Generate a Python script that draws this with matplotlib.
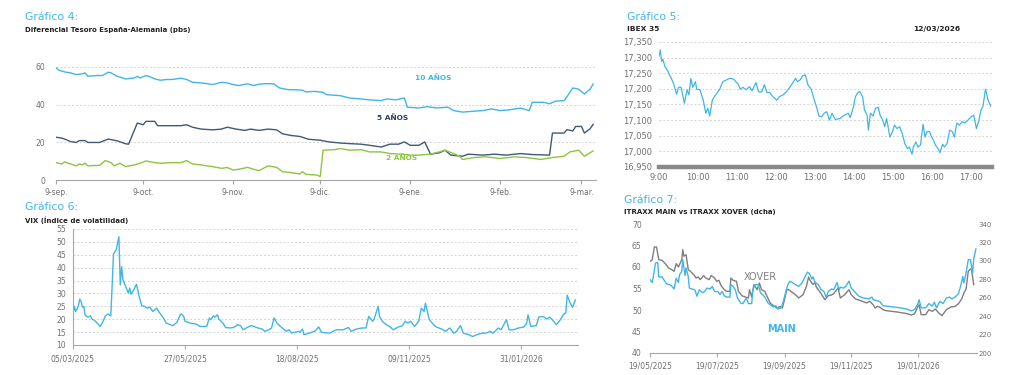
import matplotlib
matplotlib.use('Agg')
import matplotlib.pyplot as plt
import pandas as pd
from matplotlib.ticker import FuncFormatter

# Gráfico 4: diferencial España-Alemania (días desde 9-sep-2025, pbs)
dias_10a = [0, 1, 3, 5, 7, 9, 10, 11, 14, 16, 18, 19, 21, 23, 24, 27, 28, 29, 31, 32, 34, 36, 38, 40, 43, 45, 47,
            50, 52, 54, 57, 59, 61, 63, 66, 68, 70, 72, 75, 77, 80, 82, 85, 86, 89, 92, 93, 98, 101, 105, 108, 112,
            114, 117, 120, 121, 125, 128, 131, 135, 137, 140, 144, 147, 150, 153, 156, 160, 163, 164, 168, 170,
            172, 175, 176, 178, 180, 182, 184, 185]
spread_10a = [59.5, 58.2, 57.3, 56.8, 55.9, 56.3, 56.8, 55, 55.4, 55.4, 57.2, 56.8, 55, 54.1, 53.6, 54.1, 55, 54.1,
              55.4, 55, 53.6, 52.9, 53.3, 53.3, 54, 53.3, 51.8, 51.5, 51.1, 50.6, 51.8, 51.5, 50.6, 50.1, 51, 50.1,
              50.8, 51.1, 51, 48.8, 47.9, 47.9, 47.6, 46.7, 47, 46.5, 45.3, 44.7, 43.5, 43, 42.5, 42.1, 43, 42.5,
              43.5, 38.6, 38.2, 38.9, 38.2, 38.6, 36.8, 36, 36.5, 36.8, 37.7, 36.8, 37.2, 38.1, 36.8, 41.2, 41.2,
              40.4, 41.8, 42.1, 44.2, 48.8, 48.2, 45.6, 48.2, 50.9]
dias_5a = [0, 2, 3, 5, 7, 8, 10, 11, 15, 18, 21, 24, 25, 28, 30, 31, 34, 35, 38, 43, 45, 47, 50, 54, 57, 59, 62,
           65, 67, 70, 73, 76, 78, 81, 84, 87, 91, 94, 98, 101, 105, 108, 112, 115, 118, 120, 122, 125, 127, 129,
           132, 134, 136, 140, 142, 147, 151, 155, 160, 164, 170, 171, 175, 176, 178, 179, 181, 182, 184, 185]
spread_5a = [22.7, 22.2, 21.7, 20.4, 19.9, 20.9, 20.9, 19.9, 19.9, 21.7, 20.8, 19.2, 19.0, 30.2, 29.3, 31.1, 31.1,
             28.8, 28.8, 28.8, 29.3, 28, 27, 26.6, 27, 28, 27, 26.3, 27, 26.3, 27, 26.6, 24.5, 23.6, 23.1, 21.6,
             21.1, 20.2, 19.6, 19.3, 19, 18.4, 17.5, 19, 19, 20.2, 18.4, 18.4, 20.2, 13.7, 14.4, 15.8, 13.2, 12.6,
             13.7, 13.2, 13.7, 13.2, 14, 13.5, 13.2, 24.9, 24.9, 26.7, 26, 28.4, 28.4, 24.9, 27.2, 29.5]
dias_2a = [0, 2, 3, 5, 7, 8, 9, 10, 11, 15, 17, 19, 20, 22, 24, 27, 29, 31, 34, 36, 40, 43, 45, 47, 50, 52, 54,
           57, 59, 61, 63, 66, 68, 70, 73, 76, 78, 81, 84, 85, 86, 90, 91, 92, 96, 98, 101, 105, 108, 112, 115,
           119, 122, 125, 129, 132, 134, 137, 139, 140, 144, 148, 153, 158, 162, 167, 171, 175, 177, 180, 182, 185]
spread_2a = [9.2, 8.5, 9.6, 8.5, 7.5, 8.5, 8, 8.9, 7.5, 7.8, 10.3, 9.2, 7.5, 8.9, 7.1, 8, 8.9, 10.1, 9.2, 8.9, 9.2,
             9.2, 10.3, 8.5, 8, 7.5, 7.1, 6.2, 6.6, 5.3, 5.7, 6.7, 5.7, 5, 7.5, 6.7, 4.4, 3.9, 3.2, 4.4, 3, 2.6,
             1.8, 15.8, 16.1, 16.7, 15.8, 16.1, 14.9, 14.9, 14, 13.7, 13.2, 13.2, 13.7, 14.9, 15.8, 14, 12.6, 10.9,
             11.9, 12.3, 11.4, 12.3, 11.9, 10.9, 11.9, 12.6, 14.9, 15.8, 12.6, 15.4]
meses_4 = ['2025-09-09', '2025-10-09', '2025-11-09', '2025-12-09', '2026-01-09', '2026-02-09', '2026-03-09']
etiq_4 = ['9-sep.', '9-oct.', '9-nov.', '9-dic.', '9-ene.', '9-feb.', '9-mar.']

# Gráfico 5: IBEX 35 intradía (minutos desde las 9:00)
minutos = [0, 2, 4, 6, 9, 14, 16, 19, 23, 27, 30, 34, 39, 43, 46, 49, 52, 56, 58, 63, 68, 72, 75, 78, 82, 85, 89,
           93, 98, 104, 109, 115, 118, 121, 125, 129, 134, 139, 143, 149, 153, 158, 162, 166, 170, 175, 181, 185,
           191, 196, 201, 206, 210, 213, 217, 221, 225, 229, 234, 238, 242, 246, 250, 254, 258, 262, 266, 271,
           278, 285, 291, 294, 299, 302, 306, 309, 313, 316, 320, 322, 325, 329, 333, 337, 340, 344, 347, 350,
           355, 359, 362, 366, 370, 374, 378, 382, 385, 389, 391, 395, 398, 402, 406, 409, 412, 416, 419, 422,
           425, 429, 432, 436, 439, 443, 447, 451, 454, 458, 462, 466, 470, 475, 480, 484, 488, 492, 495, 498,
           502, 506, 510]
ibex = [17304, 17325, 17288, 17295, 17272, 17256, 17245, 17234, 17213, 17183, 17205, 17205, 17154, 17197, 17181,
        17233, 17205, 17223, 17199, 17197, 17164, 17122, 17138, 17113, 17164, 17175, 17186, 17197, 17223, 17229,
        17234, 17231, 17223, 17218, 17199, 17205, 17197, 17207, 17194, 17220, 17191, 17190, 17213, 17188, 17189,
        17175, 17164, 17175, 17181, 17191, 17205, 17220, 17234, 17223, 17229, 17242, 17245, 17213, 17199, 17170,
        17143, 17113, 17111, 17122, 17127, 17100, 17122, 17102, 17105, 17116, 17122, 17108, 17143, 17175, 17189,
        17191, 17175, 17132, 17116, 17068, 17122, 17113, 17138, 17141, 17116, 17100, 17079, 17105, 17046, 17063,
        17084, 17073, 17079, 17057, 17025, 17009, 17014, 16991, 17014, 17030, 17014, 17020, 17087, 17046, 17063,
        17063, 17046, 17036, 17020, 17009, 16996, 17023, 17014, 17025, 17068, 17063, 17046, 17091, 17084, 17095,
        17091, 17100, 17111, 17116, 17073, 17100, 17132, 17143, 17199, 17164, 17145]
horas = ['9:00', '10:00', '11:00', '12:00', '13:00', '14:00', '15:00', '16:00', '17:00']

# Gráfico 6: VIX (días desde 05/03/2025)
dias_vix = [0, 1, 2, 4, 5, 6, 7, 8, 9, 11, 13, 14, 16, 19, 20, 22, 24, 26, 28, 30, 32, 34, 35, 36, 37, 39, 41, 42,
            43, 45, 47, 49, 51, 53, 55, 57, 59, 62, 64, 67, 69, 72, 74, 77, 79, 80, 82, 83, 85, 88, 90, 92, 94,
            96, 99, 101, 102, 104, 105, 107, 108, 111, 113, 116, 119, 122, 124, 126, 129, 132, 135, 137, 140,
            142, 145, 147, 149, 151, 153, 156, 158, 160, 162, 164, 167, 168, 170, 171, 175, 179, 182, 184, 190,
            195, 200, 204, 206, 210, 214, 217, 219, 222, 223, 226, 227, 229, 232, 235, 237, 241, 244, 246, 248,
            250, 253, 256, 258, 260, 261, 263, 264, 267, 269, 273, 276, 279, 282, 284, 287, 289, 293, 296, 299,
            303, 306, 309, 311, 315, 317, 321, 323, 326, 330, 334, 336, 337, 339, 343, 345, 348, 351, 353, 356,
            358, 361, 363, 365, 366, 368, 370, 372]
vix = [21.7, 25, 23, 25.2, 27.8, 26.9, 24.7, 25, 21.6, 20.8, 21.3, 20.1, 19.5, 17.9, 17.2, 18.8, 21.3, 22, 21.3,
       45.3, 46.9, 52, 33.3, 40.4, 35.3, 32.7, 30.1, 32.1, 29.7, 31.4, 33.6, 28.8, 25.2, 25, 24.3, 24.7, 23, 24.3,
       22.6, 20.5, 18.5, 17.9, 17.5, 18.8, 21.3, 22.1, 21.1, 19.2, 18.8, 18.3, 18.3, 17.9, 17.2, 17.2, 17.2, 20.5,
       19.8, 21.3, 20.8, 21.7, 20.1, 18.5, 16.8, 16.6, 16.8, 17.9, 17.5, 15.9, 16.8, 17.5, 17, 16.6, 16.2, 15.3,
       15.9, 16.6, 20.5, 18.5, 17.5, 16.2, 15.3, 15.9, 14.6, 14.9, 15.3, 14.9, 16.2, 14, 14.6, 15.3, 17, 14.9,
       14.6, 15.9, 15.9, 16.8, 15.3, 16.2, 16.6, 16.6, 21.1, 19.2, 20.1, 25, 21.1, 19.2, 17.9, 17, 15.9, 17, 17.5,
       19.2, 18.5, 19.2, 17.2, 19.2, 24.3, 23, 26.2, 21.7, 19.8, 17.9, 17, 16.2, 15.3, 16.6, 14.6, 15.3, 17.5,
       14.6, 14, 13.3, 14, 14.6, 14.6, 15.3, 14.6, 16.6, 15.9, 19.8, 15.9, 15.9, 16.6, 17, 18.5, 21.7, 17.2,
       17.5, 20.8, 21.1, 20.1, 20.8, 19.2, 17.9, 19.8, 21.7, 22.6, 29.3, 26.5, 24.6, 27.5]

# Gráfico 7: iTraxx Main (izq) y Crossover (dcha), días desde 19/05/2025
dias_main = [0, 2, 3, 5, 7, 8, 11, 13, 15, 18, 20, 22, 24, 26, 27, 29, 30, 32, 33, 35, 36, 38, 41, 43, 45, 48, 50,
             52, 55, 57, 59, 62, 64, 66, 68, 70, 73, 74, 76, 78, 80, 83, 85, 88, 90, 93, 94, 96, 99, 101, 104, 105,
             108, 110, 113, 115, 117, 120, 121, 124, 126, 128, 130, 133, 136, 139, 141, 144, 146, 148, 149, 151,
             154, 156, 159, 161, 163, 166, 168, 171, 173, 174, 177, 179, 182, 184, 187, 191, 195, 200, 203, 204,
             207, 210, 213, 216, 223, 229, 235, 239, 242, 245, 246, 248, 252, 255, 258, 260, 262, 265, 268, 271,
             274, 276, 279, 282, 284, 286, 287, 289, 291, 293, 295, 296, 298]
main = [57.1, 56.4, 57.7, 60.9, 61.1, 57.7, 57.7, 56.9, 56.1, 55.9, 55.5, 54.9, 57.4, 56.4, 58.2, 59, 61.7, 58,
        59.8, 57.7, 55.1, 54.9, 54.7, 53.2, 54.7, 54, 54.3, 55.1, 54.9, 55.5, 54.3, 54.3, 53.6, 54.3, 53.3, 53, 53,
        55.9, 55.5, 54.7, 52.8, 51.6, 51.5, 52.8, 51.5, 51.5, 54.7, 55.9, 55.9, 54, 53.3, 53, 51.6, 51.2, 50.7, 51,
        50.2, 50.5, 51.2, 54, 55.9, 56.7, 56.4, 55.9, 55.5, 56.3, 57.4, 58.8, 58.4, 57.2, 57.7, 56.4, 55.9, 54.9,
        54.3, 53, 54.3, 54.9, 54.7, 56.4, 54.7, 55.3, 55.1, 55.5, 56.7, 55.1, 54.3, 53.2, 52.8, 52.6, 53, 52.4,
        52.2, 52, 51, 50.9, 50.7, 50.5, 50.2, 49.8, 50.1, 51.5, 52.4, 50.5, 50.5, 51.5, 50.9, 51.8, 50.5, 52, 51.5,
        52.8, 53, 52.6, 53, 53.8, 55.5, 57.8, 56.3, 58.6, 61.7, 61.7, 58.6, 61.9, 64.2]
dias_xover = [0, 2, 4, 6, 8, 11, 14, 17, 20, 22, 24, 26, 29, 30, 31, 33, 35, 37, 40, 42, 44, 46, 49, 51, 54, 56,
              59, 61, 63, 65, 68, 70, 73, 74, 76, 79, 81, 84, 87, 90, 91, 93, 95, 98, 100, 102, 105, 107, 110, 113,
              116, 119, 121, 123, 125, 127, 130, 133, 136, 140, 143, 145, 146, 149, 151, 152, 155, 157, 160, 163,
              166, 168, 172, 174, 178, 182, 184, 188, 192, 198, 201, 204, 206, 208, 210, 213, 216, 226, 235, 239,
              242, 245, 246, 248, 252, 255, 258, 261, 264, 267, 271, 275, 279, 282, 285, 287, 289, 291, 293, 294,
              296]
xover = [299.5, 301, 315, 315, 301.3, 300.6, 297, 292.2, 290.4, 288.6, 297, 293.3, 301.3, 312.1, 305, 306.7,
         290.4, 288.6, 285, 281.4, 282.5, 279.6, 284, 281.4, 279.6, 284, 281.4, 277.8, 278.9, 273.1, 268.7,
         266.9, 266.9, 281.4, 278.9, 277.8, 266.9, 262.2, 260.8, 259.7, 268.7, 260.8, 274.2, 268.7, 275.9,
         268.7, 266.9, 261.5, 254.2, 251.4, 248.8, 250.6, 248.8, 257.9, 268.7, 268.7, 265.8, 263.3, 259.7,
         263.3, 272.3, 282.5, 279.6, 274.2, 276.7, 271.6, 266.9, 263.3, 257.9, 262.2, 263, 264.4, 270.5, 259.7,
         263.3, 268.7, 263.3, 258.6, 257.1, 254.3, 256.1, 252.4, 248.8, 250.6, 249.9, 247, 245.9, 244.5, 242.7,
         241.2, 242.7, 250.6, 252.4, 241.6, 241.6, 247, 245.2, 247.7, 243.4, 240.5, 247, 249.9, 250.6, 253.5,
         258.6, 265.1, 269.4, 288.6, 291.2, 290.4, 274.2]

AZUL = '#41B6E6'
GRIS = '#707070'
EJE = '#a6a6a6'
REJILLA = '#d4d4d4'
OSCURO = '#222222'

W, H = 1024, 375
fig = plt.figure(figsize=(W / 100, H / 100), dpi=100)


def caja(izq, arr, der, aba):
    # ejes colocados en píxeles de la figura
    return fig.add_axes([izq / W, 1 - aba / H, (der - izq) / W, (aba - arr) / H])


def texto(x, y, s, **kw):
    fig.text(x / W, 1 - y / H, s, va='center', **kw)


def fechas(base, dias):
    return pd.Timestamp(base) + pd.to_timedelta(dias, unit='D')


def limpiar(ax):
    for lado in ['top', 'right', 'left']:
        ax.spines[lado].set_visible(False)
    ax.spines['bottom'].set_color(EJE)
    ax.tick_params(colors=EJE, labelcolor=GRIS, labelsize=5.5)


# ---- Gráfico 4
ax4 = caja(56, 48, 596, 180)
base4 = '2025-09-09'
ax4.plot(fechas(base4, dias_10a), spread_10a, color=AZUL, lw=1.0)
ax4.plot(fechas(base4, dias_5a), spread_5a, color='#3F5A74', lw=1.0)
ax4.plot(fechas(base4, dias_2a), spread_2a, color='#8CC63F', lw=1.0)
ax4.set_xlim(pd.Timestamp(base4), pd.Timestamp('2026-03-14'))
ax4.set_ylim(0, 70)
ax4.set_yticks([0, 20, 40, 60])
ax4.set_xticks(pd.to_datetime(meses_4))
ax4.set_xticklabels(etiq_4)
limpiar(ax4)
ax4.tick_params(axis='x', length=3, pad=3)
ax4.tick_params(axis='y', length=0, pad=8)
ax4.grid(axis='y', color=REJILLA, lw=0.7, ls=(0, (2, 2)))
ax4.text(pd.Timestamp(base4) + pd.Timedelta(days=130), 54.2, '10 AÑOS', color=AZUL, fontsize=5.3,
         fontweight='bold', ha='center', va='center')
ax4.text(pd.Timestamp(base4) + pd.Timedelta(days=116), 33, '5 AÑOS', color='#243B6B', fontsize=5.3,
         fontweight='bold', ha='center', va='center')
ax4.text(pd.Timestamp(base4) + pd.Timedelta(days=119), 12, '2 AÑOS', color='#8CC63F', fontsize=5.3,
         fontweight='bold', ha='center', va='center')
texto(25, 17, 'Gráfico 4:', color=AZUL, fontsize=7.8)
texto(25, 30, 'Diferencial Tesoro España-Alemania (pbs)', color=OSCURO, fontsize=5.0, fontweight='bold')

# ---- Gráfico 5
ax5 = caja(659, 42, 992, 167)
ax5.plot(minutos, ibex, color=AZUL, lw=0.9)
ax5.set_xlim(0, 512)
ax5.set_ylim(16950, 17350)
ax5.set_yticks(range(16950, 17351, 50))
ax5.yaxis.set_major_formatter(FuncFormatter(lambda v, p: f'{int(v):,}'))
ax5.set_xticks(range(0, 481, 60))
ax5.set_xticklabels(horas)
limpiar(ax5)
ax5.spines['bottom'].set_color('#8a8a8a')
ax5.spines['bottom'].set_linewidth(3.2)
ax5.tick_params(length=0, labelsize=6)
ax5.tick_params(axis='x', pad=4)
ax5.tick_params(axis='y', pad=5)
ax5.grid(axis='y', color=REJILLA, lw=0.7, ls=(0, (2, 2)))
texto(627, 17, 'Gráfico 5:', color=AZUL, fontsize=7.8)
texto(627, 29, 'IBEX 35', color=OSCURO, fontsize=5.4, fontweight='bold')
texto(913, 29, '12/03/2026', color=OSCURO, fontsize=5.4, fontweight='bold')

# ---- Gráfico 6
ax6 = caja(73, 229, 578, 345)
base6 = '2025-03-05'
ax6.plot(fechas(base6, dias_vix), vix, color=AZUL, lw=1.0)
ax6.set_xlim(pd.Timestamp(base6), pd.Timestamp('2026-03-14'))
ax6.set_ylim(10, 55)
ax6.set_yticks(range(10, 56, 5))
marcas6 = [pd.Timestamp(base6) + pd.Timedelta(days=83 * k) for k in range(5)]
ax6.set_xticks(marcas6)
ax6.set_xticklabels([m.strftime('%d/%m/%Y') for m in marcas6])
limpiar(ax6)
ax6.spines['left'].set_visible(True)
ax6.spines['left'].set_color(EJE)
ax6.tick_params(axis='x', length=3, pad=4)
ax6.tick_params(axis='y', length=0, pad=5)
ax6.grid(axis='y', color=REJILLA, lw=0.7, ls=(0, (2, 2)))
texto(25, 207, 'Gráfico 6:', color=AZUL, fontsize=7.8)
texto(25, 220, 'VIX (Índice de volatilidad)', color=OSCURO, fontsize=5.0, fontweight='bold')

# ---- Gráfico 7
ax7 = caja(650, 224, 977, 353)
ax7b = ax7.twinx()
base7 = '2025-05-19'
ax7b.plot(fechas(base7, dias_xover), xover, color='#7f7f7f', lw=1.0)
ax7.plot(fechas(base7, dias_main), main, color=AZUL, lw=1.0)
ax7.set_zorder(ax7b.get_zorder() + 1)
ax7.patch.set_visible(False)
ax7.set_xlim(pd.Timestamp(base7), pd.Timestamp('2026-03-14'))
ax7.set_ylim(40, 70)
ax7b.set_ylim(200, 340)
ax7.set_yticks(range(40, 71, 5))
ax7b.set_yticks(range(200, 341, 20))
marcas7 = pd.to_datetime(['2025-05-19', '2025-07-19', '2025-09-19', '2025-11-19', '2026-01-19'])
ax7.set_xticks(marcas7)
ax7.set_xticklabels([m.strftime('%d/%m/%Y') for m in marcas7])
limpiar(ax7)
for lado in ['top', 'right', 'left', 'bottom']:
    ax7b.spines[lado].set_visible(False)
ax7.tick_params(axis='x', length=3, pad=3)
ax7.tick_params(axis='y', length=0, pad=6)
ax7b.tick_params(length=0, labelcolor=GRIS, labelsize=5, pad=1)
texto(760, 277, 'XOVER', color='#808080', fontsize=7, ha='center')
texto(782, 329, 'MAIN', color=AZUL, fontsize=7, fontweight='bold', ha='center')
texto(624, 200, 'Gráfico 7:', color=AZUL, fontsize=7.8)
texto(624, 212, 'ITRAXX MAIN vs ITRAXX XOVER (dcha)', color=OSCURO, fontsize=5.0, fontweight='bold')

fig.savefig('out.png', dpi=100)
